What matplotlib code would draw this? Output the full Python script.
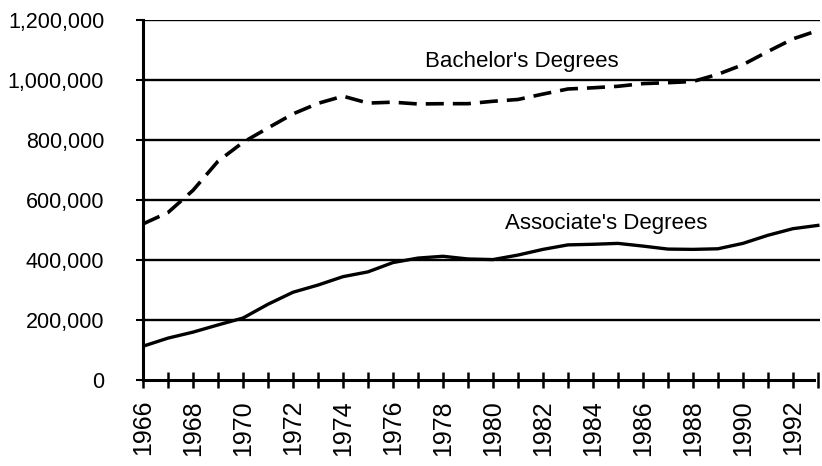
import matplotlib.pyplot as plt
import numpy as np

plt.rcParams['font.family'] = ['Liberation Sans', 'DejaVu Sans']

# Years (academic year ending)
years = list(range(1966, 1994))

# Degrees conferred
bachelors = [520000, 558000, 632000, 729000, 792000, 840000, 887000, 922000,
             946000, 923000, 926000, 920000, 921000, 921000, 929000, 935000,
             953000, 970000, 974000, 979000, 988000, 991000, 995000, 1019000,
             1051000, 1095000, 1137000, 1165000]
associates = [112000, 139000, 159000, 183000, 206000, 252000, 292000, 316000,
              344000, 360000, 391000, 406000, 412000, 403000, 401000, 416000,
              435000, 450000, 452000, 455000, 446000, 436000, 435000, 437000,
              455000, 482000, 504000, 515000]

y_ticks = [0, 200000, 400000, 600000, 800000, 1000000, 1200000]
x_labels = list(range(1966, 1993, 2))

fig = plt.figure(figsize=(8.22, 4.66), dpi=100)
ax = fig.add_axes([0.174, 0.185, 0.824, 0.772])

for v in y_ticks[1:]:
    ax.axhline(v, color='black', lw=1.7, zorder=1)

ax.plot(years, bachelors, color='black', lw=2.6, dashes=(5, 2.5), zorder=3)
ax.plot(years, associates, color='black', lw=2.4, zorder=3)

ax.text(1977.3, 1062000, "Bachelor's Degrees", fontsize=16, va='center', ha='left')
ax.text(1980.5, 522000, "Associate's Degrees", fontsize=16, va='center', ha='left')

ax.set_xlim(1966, 1993.1)
ax.set_ylim(0, 1200000)

ax.set_yticks(y_ticks)
ax.set_yticklabels(['{:,}'.format(v) for v in y_ticks], fontsize=15.5)
ax.tick_params(axis='y', direction='out', length=5, width=1.5, pad=23)

ax.set_xticks(years)
ax.set_xticklabels([str(y) if y in x_labels else '' for y in years],
                   rotation=90, fontsize=18)
ax.tick_params(axis='x', direction='inout', length=11, width=1.8, pad=9)

for s in ['top', 'right']:
    ax.spines[s].set_visible(False)
ax.spines['left'].set_linewidth(2.2)
ax.spines['bottom'].set_linewidth(2.2)
ax.spines['bottom'].set_bounds(1966, 1992.85)

fig.savefig('out.png', dpi=100)
